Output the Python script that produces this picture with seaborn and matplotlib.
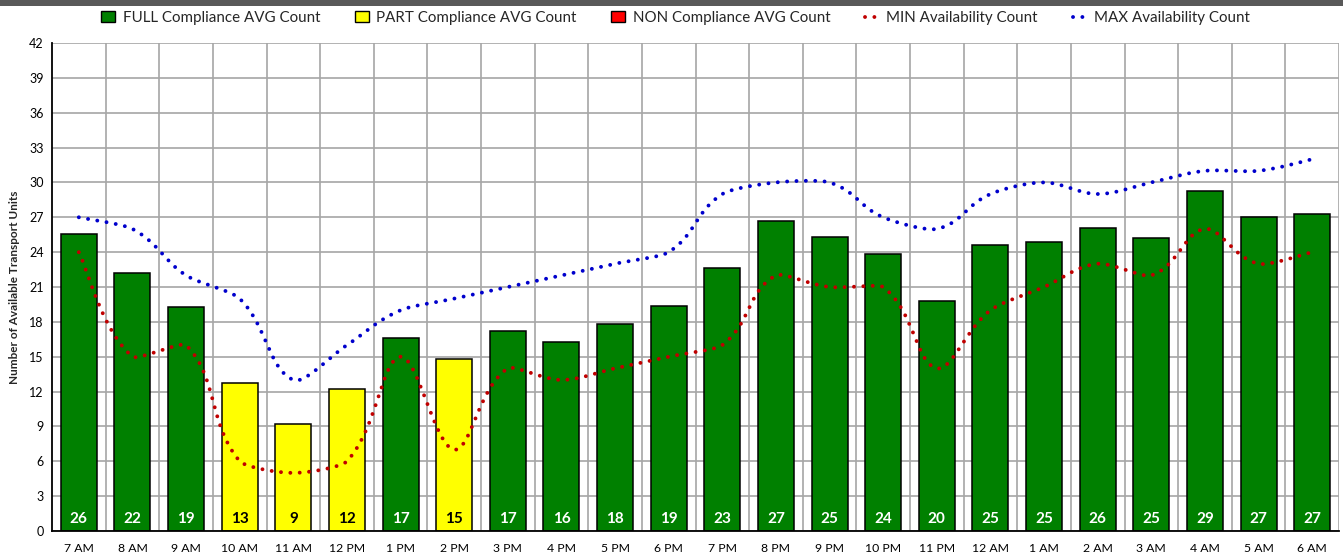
import numpy as np
import pandas as pd
import matplotlib
matplotlib.use("Agg")
import matplotlib.pyplot as plt
import seaborn as sns
from matplotlib.patches import Patch, Rectangle
from matplotlib.lines import Line2D

hours = ["7 AM", "8 AM", "9 AM", "10 AM", "11 AM", "12 PM", "1 PM", "2 PM",
         "3 PM", "4 PM", "5 PM", "6 PM", "7 PM", "8 PM", "9 PM", "10 PM",
         "11 PM", "12 AM", "1 AM", "2 AM", "3 AM", "4 AM", "5 AM", "6 AM"]
avg_count = [25.6, 22.2, 19.3, 12.7, 9.2, 12.2, 16.6, 14.8,
             17.2, 16.3, 17.8, 19.4, 22.6, 26.7, 25.3, 23.8,
             19.8, 24.6, 24.9, 26.1, 25.2, 29.3, 27.0, 27.3]
compliance = ["FULL", "FULL", "FULL", "PART", "PART", "PART", "FULL", "PART",
              "FULL", "FULL", "FULL", "FULL", "FULL", "FULL", "FULL", "FULL",
              "FULL", "FULL", "FULL", "FULL", "FULL", "FULL", "FULL", "FULL"]
min_avail = [24, 15, 16, 6, 5, 6, 15, 7, 14, 13, 14, 15,
             16, 22, 21, 21, 14, 19, 21, 23, 22, 26, 23, 24]
max_avail = [27, 26, 22, 20, 13, 16, 19, 20, 21, 22, 23, 24,
             29, 30, 30, 27, 26, 29, 30, 29, 30, 31, 31, 32]

colors = {"FULL": "#008000", "PART": "#FFFF00", "NON": "#FF0000"}
legend_names = {"FULL": "FULL Compliance AVG Count",
                "PART": "PART Compliance AVG Count",
                "NON": "NON Compliance AVG Count"}


def smooth_curve(vals, steps=24):
    # smoothed line drawn as bezier segments, handles scaled by segment length
    pts = np.column_stack([np.arange(len(vals)), np.asarray(vals, float)])
    n = len(pts)
    out = []
    t = np.linspace(0, 1, steps)[:, None]
    for i in range(n - 1):
        p0 = pts[i - 1] if i > 0 else pts[i]
        p1, p2 = pts[i], pts[i + 1]
        p3 = pts[i + 2] if i + 2 < n else pts[i + 1]
        d01 = np.linalg.norm(p1 - p0)
        d12 = np.linalg.norm(p2 - p1)
        d23 = np.linalg.norm(p3 - p2)
        k1 = d12 / (d01 + d12) / 3 if d01 > 0 else 1 / 6
        k2 = d12 / (d12 + d23) / 3 if d23 > 0 else 1 / 6
        c1 = p1 + (p2 - p0) * k1
        c2 = p2 - (p3 - p1) * k2
        seg = ((1 - t) ** 3) * p1 + 3 * ((1 - t) ** 2) * t * c1 + 3 * (1 - t) * t ** 2 * c2 + t ** 3 * p2
        out.append(seg if i == 0 else seg[1:])
    out = np.vstack(out)
    return out[:, 0], out[:, 1]


sns.set_style("white")
plt.rcParams["font.family"] = ["Lato", "DejaVu Sans"]

df = pd.DataFrame({"hour": hours, "avg": avg_count, "compliance": compliance})

fig = plt.figure(figsize=(13.43, 5.56), dpi=100)
ax = fig.add_axes([52 / 1343, 1 - 531 / 556, 1287 / 1343, 488 / 556])

sns.barplot(data=df, x="hour", y="avg", hue="compliance", order=hours,
            hue_order=["FULL", "PART"], palette=colors, dodge=False,
            width=0.67, saturation=1, edgecolor="black", linewidth=1.1,
            legend=False, ax=ax, zorder=2)

dot_style = (0, (0.01, 2.4))
for vals, col in [(min_avail, "#C00000"), (max_avail, "#0000CC")]:
    xs, ys = smooth_curve(vals)
    ax.plot(xs, ys, color=col, lw=2.8, linestyle=dot_style,
            dash_capstyle="round", zorder=4)

for i, (v, c) in enumerate(zip(avg_count, compliance)):
    ax.text(i, 1.0, str(int(round(v))), ha="center", va="center",
            fontsize=11, fontweight="bold",
            color="white" if c == "FULL" else "black", zorder=5)

ax.set_xlim(-0.5, len(hours) - 0.5)
ax.set_ylim(0, 42)
ax.set_yticks(np.arange(0, 43, 3))
ax.set_xticks(np.arange(len(hours)))
ax.set_xticklabels(hours)
ax.set_xticks(np.arange(len(hours)) + 0.5, minor=True)
ax.set_axisbelow(True)
ax.grid(axis="y", which="major", color="#A6A6A6", lw=1.2)
ax.grid(axis="x", which="minor", color="#A6A6A6", lw=1.2)
ax.grid(axis="x", which="major", visible=False)
ax.tick_params(axis="both", which="both", length=0)
ax.tick_params(axis="y", labelsize=9, pad=6, colors="black")
ax.tick_params(axis="x", labelsize=8.8, pad=9, colors="black")
ax.set_xlabel("")
ax.set_ylabel("")
for side in ["left", "bottom"]:
    ax.spines[side].set_color("black")
    ax.spines[side].set_linewidth(1.3)
for side in ["top", "right"]:
    ax.spines[side].set_visible(False)

fig.text(15 / 1343, 1 - 287 / 556, "Number of Available Transport Units",
         rotation=90, ha="center", va="center", fontsize=8.5, fontweight="bold")

# dark band along the top edge
fig.patches.append(Rectangle((0, 1 - 6 / 556), 1, 6 / 556, transform=fig.transFigure,
                             facecolor="#595959", edgecolor="none", zorder=0))

handles = [Patch(facecolor=colors[k], edgecolor="black", linewidth=1.0) for k in ["FULL", "PART", "NON"]]
handles += [Line2D([0], [0], color="#C00000", lw=2.8, linestyle=dot_style, dash_capstyle="round"),
            Line2D([0], [0], color="#0000CC", lw=2.8, linestyle=dot_style, dash_capstyle="round")]
labels = [legend_names[k] for k in ["FULL", "PART", "NON"]] + ["MIN Availability Count", "MAX Availability Count"]
fig.legend(handles, labels, loc="center", bbox_to_anchor=(0.503, 1 - 18 / 556), ncol=5,
           frameon=False, fontsize=10.9, handlelength=0.9, handleheight=0.7,
           handletextpad=0.5, columnspacing=2.3)

fig.savefig("out.png", dpi=100)
